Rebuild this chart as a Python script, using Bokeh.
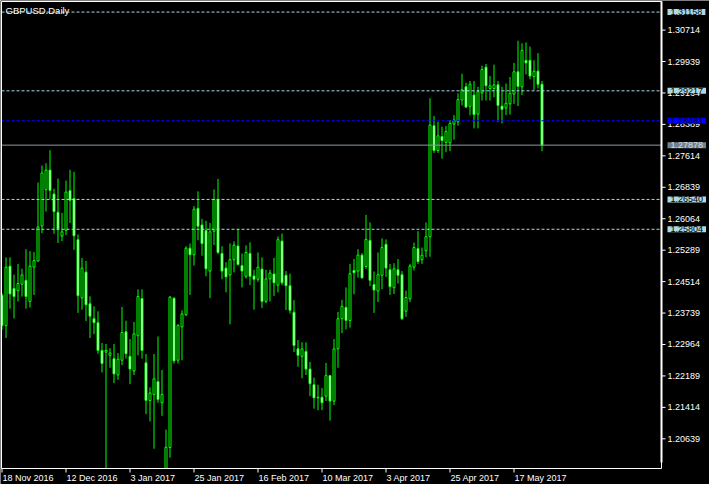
import pandas as pd
from bokeh.plotting import figure
from bokeh.models import Range1d, Label, ColumnDataSource
from bokeh.core.properties import value
from bokeh.embed import file_html
from bokeh.resources import INLINE

# ---- daily GBPUSD bars, 18 Nov 2016 .. 26 May 2017 ----
opens = [1.24178, 1.23429, 1.24895, 1.24347, 1.24291, 1.24451, 1.24547, 1.24025, 1.24871, 1.25023,
         1.25885, 1.26780, 1.27263, 1.26673, 1.26224, 1.25634, 1.25779, 1.26756, 1.26562, 1.25548,
         1.24112, 1.24750, 1.23967, 1.23598, 1.23501, 1.22817, 1.22776, 1.22697, 1.22614, 1.22213,
         1.22576, 1.23276, 1.22672, 1.22310, 1.23180, 1.24098, 1.22511, 1.21585, 1.21730, 1.22052,
         1.21527, 1.19880, 1.20425, 1.24105, 1.22576, 1.23397, 1.23702, 1.25337, 1.25175, 1.26321,
         1.25910, 1.25772, 1.24774, 1.25755, 1.26538, 1.25209, 1.24847, 1.24678, 1.25055, 1.25393,
         1.24910, 1.24644, 1.25209, 1.24654, 1.24571, 1.24823, 1.24025, 1.24581, 1.24702, 1.24426,
         1.25514, 1.24670, 1.24412, 1.23760, 1.22856, 1.22672, 1.22793, 1.22358, 1.21972, 1.21648,
         1.21665, 1.21689, 1.22197, 1.21568, 1.22856, 1.23598, 1.23880, 1.23557, 1.24789, 1.24774,
         1.25168, 1.24886, 1.25531, 1.24443, 1.24282, 1.24670, 1.25434, 1.24806, 1.24364, 1.24806,
         1.24685, 1.23784, 1.24088, 1.24871, 1.25330, 1.25055, 1.25272, 1.25620, 1.28357, 1.27746,
         1.28092, 1.27947, 1.27931, 1.28398, 1.28454, 1.28993, 1.29316, 1.28833, 1.29114, 1.28640,
         1.29162, 1.29800, 1.29275, 1.29275, 1.29365, 1.28841, 1.28792, 1.28897, 1.29138, 1.29686,
         1.29316, 1.29969, 1.29969, 1.29565, 1.29703, 1.29379]
highs = [1.24226, 1.25113, 1.25113, 1.24685, 1.24951, 1.24830, 1.25313, 1.25265, 1.25241, 1.26956,
         1.27376, 1.27432, 1.27753, 1.26804, 1.27053, 1.26207, 1.27004, 1.27270, 1.27222, 1.25676,
         1.25096, 1.25023, 1.24153, 1.23905, 1.23784, 1.23001, 1.22977, 1.22873, 1.22977, 1.22752,
         1.23888, 1.23549, 1.23098, 1.23518, 1.24323, 1.24323, 1.22728, 1.21907, 1.22728, 1.23163,
         1.22334, 1.20868, 1.24161, 1.24129, 1.23460, 1.23808, 1.25386, 1.25451, 1.26376, 1.26739,
         1.26062, 1.26014, 1.25958, 1.26787, 1.27045, 1.25386, 1.24992, 1.25458, 1.25506, 1.25813,
         1.25209, 1.25410, 1.25482, 1.24806, 1.25233, 1.25113, 1.24806, 1.24806, 1.25096, 1.25627,
         1.25700, 1.24774, 1.24709, 1.24057, 1.23074, 1.23018, 1.23018, 1.22535, 1.22148, 1.21972,
         1.21890, 1.22511, 1.22213, 1.23098, 1.23767, 1.24064, 1.24371, 1.24951, 1.25072, 1.25313,
         1.25217, 1.26159, 1.25973, 1.24765, 1.25233, 1.25579, 1.25555, 1.24951, 1.24968, 1.25072,
         1.24774, 1.24291, 1.24951, 1.25475, 1.25755, 1.25354, 1.25973, 1.29034, 1.28599, 1.28454,
         1.28333, 1.28350, 1.28495, 1.28616, 1.29155, 1.29638, 1.29420, 1.29462, 1.29462, 1.29317,
         1.29838, 1.29879, 1.29582, 1.29862, 1.29462, 1.29317, 1.29396, 1.29558, 1.29904, 1.30452,
         1.30387, 1.30411, 1.30307, 1.29969, 1.30145, 1.29462]
lows = [1.23332, 1.23122, 1.23847, 1.23606, 1.24025, 1.24146, 1.23847, 1.23871, 1.24185, 1.25006,
        1.25708, 1.26239, 1.26545, 1.25692, 1.25465, 1.25514, 1.25659, 1.25958, 1.25296, 1.23743,
        1.23822, 1.23542, 1.23122, 1.23219, 1.22735, 1.22276, 1.19850, 1.22390, 1.22010, 1.22093,
        1.22455, 1.22614, 1.21986, 1.22213, 1.22697, 1.22614, 1.21247, 1.21068, 1.20392, 1.21527,
        1.21206, 1.19860, 1.20174, 1.22494, 1.22494, 1.22576, 1.23663, 1.24185, 1.24910, 1.25531,
        1.25151, 1.24644, 1.24105, 1.25417, 1.25192, 1.24571, 1.24250, 1.23460, 1.24741, 1.24910,
        1.24371, 1.24588, 1.24426, 1.23822, 1.24509, 1.23864, 1.23984, 1.24025, 1.24161, 1.24250,
        1.24426, 1.23815, 1.23726, 1.22776, 1.22414, 1.22131, 1.22213, 1.21689, 1.21382, 1.21344,
        1.21344, 1.21568, 1.21085, 1.21472, 1.22390, 1.23243, 1.23339, 1.23380, 1.24202, 1.24613,
        1.24588, 1.24830, 1.24402, 1.23743, 1.24009, 1.24323, 1.24629, 1.24185, 1.24209, 1.24468,
        1.23566, 1.23646, 1.24009, 1.24789, 1.24951, 1.24951, 1.25113, 1.25127, 1.27688, 1.27688,
        1.27543, 1.27705, 1.27729, 1.28012, 1.28357, 1.28857, 1.28799, 1.28616, 1.28292, 1.28292,
        1.28978, 1.28978, 1.28978, 1.29058, 1.28454, 1.28413, 1.28616, 1.28630, 1.28897, 1.28841,
        1.29114, 1.29621, 1.29500, 1.29234, 1.29275, 1.27729]
closes = [1.23429, 1.24871, 1.24209, 1.24146, 1.24468, 1.24678, 1.24146, 1.24895, 1.25031, 1.25861,
          1.27190, 1.27263, 1.26763, 1.26239, 1.25813, 1.25741, 1.26722, 1.26521, 1.25644, 1.24166,
          1.24847, 1.23943, 1.23663, 1.23501, 1.22817, 1.22494, 1.22817, 1.22752, 1.22238, 1.22600,
          1.23260, 1.22735, 1.22358, 1.23228, 1.24146, 1.22817, 1.21585, 1.21769, 1.22117, 1.21609,
          1.21730, 1.20433, 1.24129, 1.22559, 1.23436, 1.23719, 1.25337, 1.25175, 1.26296, 1.25876,
          1.25451, 1.24830, 1.25741, 1.26538, 1.25233, 1.24774, 1.24629, 1.25055, 1.25410, 1.24934,
          1.24774, 1.25233, 1.24644, 1.24571, 1.24871, 1.24025, 1.24581, 1.24726, 1.24484, 1.25548,
          1.24484, 1.24412, 1.23808, 1.22938, 1.22697, 1.22856, 1.22358, 1.21996, 1.21648, 1.21665,
          1.21527, 1.22197, 1.21568, 1.22856, 1.23598, 1.23905, 1.23557, 1.24709, 1.24733, 1.25168,
          1.24605, 1.25555, 1.24547, 1.24306, 1.24685, 1.25354, 1.24847, 1.24388, 1.24830, 1.24670,
          1.23598, 1.24122, 1.24895, 1.25354, 1.25006, 1.25168, 1.25620, 1.28374, 1.27746, 1.28108,
          1.27988, 1.28212, 1.28413, 1.28495, 1.29002, 1.29244, 1.28816, 1.29379, 1.28630, 1.29196,
          1.29742, 1.29341, 1.29341, 1.29365, 1.28857, 1.28761, 1.28913, 1.29155, 1.29686, 1.29324,
          1.30210, 1.29904, 1.29582, 1.29703, 1.29379, 1.27878]

dates = pd.bdate_range("2016-11-18", periods=len(opens))
date_tick_labels = ["18 Nov 2016", "12 Dec 2016", "3 Jan 2017", "25 Jan 2017", "16 Feb 2017",
                    "10 Mar 2017", "3 Apr 2017", "25 Apr 2017", "17 May 2017"]
price_ticks = [1.20639, 1.21414, 1.22189, 1.22964, 1.23739, 1.24514, 1.25289, 1.26064,
               1.26839, 1.27614, 1.28389, 1.29164, 1.29939, 1.30714]
level_lines = [1.31158, 1.29217, 1.26540, 1.25804]
pending_level = 1.28481
last_price = closes[-1]
symbol_title = "GBPUSD.Daily"

# ---- layout: the whole canvas is one frame; the chart box sits inside it ----
W, H = 709, 484
BAR_PX = 4.0                       # pixels per daily bar
CH_L, CH_R = 1, 661                # chart box, canvas pixels
CH_T, CH_B = 1, 468
Y_TOP, Y_BOT = 1.31419, 1.19907    # price at chart box top / bottom
ppx = (Y_TOP - Y_BOT) / (CH_B - CH_T)


def xd(px):                        # canvas px -> bar-index units
    return (px - CH_L - 0.5) / BAR_PX


def yd(py):                        # canvas px -> price
    return Y_TOP - (py - CH_T) * ppx


XL, XR = xd(CH_L), xd(CH_R)
p = figure(width=W, height=H, x_range=Range1d(xd(0), xd(W)), y_range=Range1d(yd(H), yd(0)),
           output_backend="svg", toolbar_location=None,
           x_axis_location=None, y_axis_location=None,
           background_fill_color="black", border_fill_color="black",
           min_border=0, min_border_left=0, min_border_right=0,
           min_border_top=0, min_border_bottom=0)
p.grid.visible = False
p.outline_line_color = None

FONT = value("Liberation Sans")
GREEN = "#00FF00"
WHITE = "white"

# ---- candles ----
idx = list(range(len(opens)))
fills = ["black" if c >= o else "white" for o, c in zip(opens, closes)]
src = ColumnDataSource(dict(
    x=idx,
    h=highs,
    l=[max(v, Y_BOT) for v in lows],
    top=[max(o, c) for o, c in zip(opens, closes)],
    bot=[max(min(o, c), Y_BOT) for o, c in zip(opens, closes)],
    fill=fills))
p.segment(x0="x", y0="l", x1="x", y1="h", source=src, line_color=GREEN, line_width=1)
p.vbar(x="x", width=0.5, top="top", bottom="bot", source=src, fill_color="fill",
       line_color=GREEN, line_width=1)

# ---- horizontal levels ----
p.segment(x0=[XL] * len(level_lines), x1=[XR] * len(level_lines), y0=level_lines,
          y1=level_lines, line_color="#ADD8E6", line_dash="3 2", line_width=1)
p.segment(x0=[XL], x1=[XR], y0=[pending_level], y1=[pending_level],
          line_color="#0000FF", line_dash="3 2", line_width=1)
p.segment(x0=[XL], x1=[XR], y0=[last_price], y1=[last_price],
          line_color="#8C9AA6", line_width=1)

# ---- chart box and right axis line ----
p.quad(left=[XL], right=[XR], top=[Y_TOP], bottom=[Y_BOT], fill_color=None,
       line_color=WHITE, line_width=1)
p.segment(x0=[XR], x1=[XR], y0=[yd(462)], y1=[Y_TOP], line_color=WHITE, line_width=2)

# price ticks + labels
tick_len = 4 / BAR_PX
p.segment(x0=[XR] * len(price_ticks), x1=[XR + tick_len] * len(price_ticks),
          y0=price_ticks, y1=price_ticks, line_color=WHITE, line_width=1)
p.text(x=[XR + 6 / BAR_PX] * len(price_ticks), y=price_ticks,
       text=[f"{t:.5f}" for t in price_ticks], text_align="left", text_baseline="middle",
       text_color=WHITE, text_font=FONT, text_font_size="9px")

# time ticks + labels (left-aligned at the tick, as in the terminal)
date_strings = [f"{d.day} {d.strftime('%b %Y')}" for d in dates]
date_ticks = [date_strings.index(s) for s in date_tick_labels]
p.segment(x0=date_ticks, x1=date_ticks, y0=[Y_BOT] * len(date_ticks),
          y1=[Y_BOT - 4 * ppx] * len(date_ticks), line_color=WHITE, line_width=1)
p.text(x=[t + 0.125 for t in date_ticks], y=[Y_BOT - 4.5 * ppx] * len(date_ticks),
       text=date_tick_labels, text_align="left", text_baseline="top",
       text_color=WHITE, text_font=FONT, text_font_size="9px")

# ---- price boxes on the axis ----
box_x = XR + 6 / BAR_PX
box_pad = (3, 0)
for lv in level_lines:
    p.add_layout(Label(x=box_x, y=lv, text=f"{lv:.5f}", text_align="left",
                       text_baseline="middle", text_color="black", text_font="Liberation Sans",
                       text_font_size="9px", background_fill_color="#ADD8E6", padding=box_pad))
p.add_layout(Label(x=box_x, y=pending_level, text=f"{pending_level:.5f}", text_align="left",
                   text_baseline="middle", text_color="#000040", text_font="Liberation Sans",
                   text_font_size="9px", background_fill_color="#0000FF", padding=box_pad))
p.add_layout(Label(x=box_x, y=last_price, text=f"{last_price:.5f}", text_align="left",
                   text_baseline="middle", text_color="#D8DDE2", text_font="Liberation Sans",
                   text_font_size="9px", background_fill_color="#6E8290", padding=box_pad))

# ---- chart title ----
p.add_layout(Label(x=xd(5), y=yd(4), text=symbol_title, text_align="left",
                   text_baseline="top", text_color=WHITE, text_font="Liberation Sans",
                   text_font_size="9.5px"))

open("out.html", "w").write(file_html(p, INLINE))
